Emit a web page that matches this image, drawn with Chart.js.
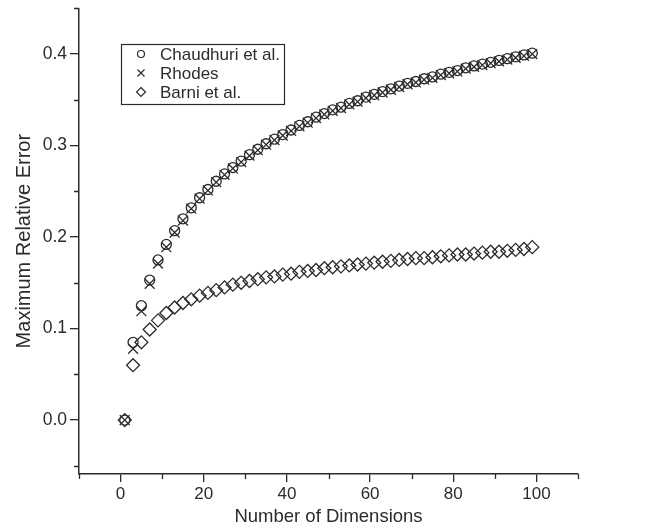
<!DOCTYPE html>
<html>
<head>
<meta charset="utf-8">
<script src="https://cdn.jsdelivr.net/npm/chart.js@4/dist/chart.umd.min.js"></script>
<style>
  html, body { margin: 0; padding: 0; background: #fff; }
  #wrap { width: 649px; height: 528px; }
</style>
</head>
<body>
<div id="wrap"><canvas id="chart"></canvas></div>
<script>
// number of dimensions (odd values 1..99)
const dims = [1, 3, 5, 7, 9, 11, 13, 15, 17, 19, 21, 23, 25, 27, 29, 31, 33, 35, 37, 39,
  41, 43, 45, 47, 49, 51, 53, 55, 57, 59, 61, 63, 65, 67, 69, 71, 73, 75, 77, 79,
  81, 83, 85, 87, 89, 91, 93, 95, 97, 99];

const chaudhuri = [0.000, 0.085, 0.125, 0.153, 0.175, 0.192, 0.207, 0.220, 0.232, 0.243,
  0.252, 0.261, 0.269, 0.276, 0.283, 0.290, 0.296, 0.302, 0.307, 0.312,
  0.317, 0.322, 0.326, 0.331, 0.335, 0.339, 0.342, 0.346, 0.349, 0.353,
  0.356, 0.359, 0.362, 0.365, 0.368, 0.370, 0.373, 0.375, 0.378, 0.380,
  0.382, 0.385, 0.387, 0.389, 0.391, 0.393, 0.395, 0.397, 0.399, 0.401];

const rhodes = [0.000, 0.078, 0.119, 0.149, 0.171, 0.189, 0.205, 0.218, 0.231, 0.242,
  0.251, 0.260, 0.268, 0.275, 0.282, 0.289, 0.295, 0.301, 0.306, 0.311,
  0.316, 0.321, 0.325, 0.330, 0.334, 0.338, 0.341, 0.345, 0.348, 0.352,
  0.355, 0.358, 0.361, 0.364, 0.367, 0.369, 0.372, 0.374, 0.377, 0.379,
  0.381, 0.384, 0.386, 0.388, 0.390, 0.392, 0.394, 0.396, 0.398, 0.400];

const barni = [0.000, 0.060, 0.085, 0.099, 0.109, 0.117, 0.123, 0.128, 0.132, 0.136,
  0.139, 0.142, 0.145, 0.148, 0.150, 0.152, 0.154, 0.156, 0.157, 0.159,
  0.160, 0.162, 0.163, 0.164, 0.166, 0.167, 0.168, 0.169, 0.170, 0.171,
  0.172, 0.173, 0.174, 0.175, 0.176, 0.177, 0.177, 0.178, 0.179, 0.180,
  0.181, 0.181, 0.182, 0.183, 0.184, 0.184, 0.185, 0.186, 0.187, 0.189];

const seriesNames = ['Chaudhuri et al.', 'Rhodes', 'Barni et al.'];

const xTicks = [0, 20, 40, 60, 80, 100];
const xMinorTicks = [-10, 10, 30, 50, 70, 90, 110];
const yTicks = [0.0, 0.1, 0.2, 0.3, 0.4];
const yMinorTicks = [-0.05, 0.05, 0.15, 0.25, 0.35, 0.45];

const ink = '#2b2b2b';
const font = "'Liberation Sans', Arial, sans-serif";

function toPoints(ys) {
  return dims.map((d, i) => ({ x: d, y: ys[i] }));
}

// short outward ticks at the minor positions
const minorTicks = {
  id: 'minorTicks',
  afterDraw(chart) {
    const ctx = chart.ctx;
    const xs = chart.scales.x, ys = chart.scales.y;
    ctx.save();
    ctx.strokeStyle = ink;
    ctx.lineWidth = 1.3;
    ctx.beginPath();
    xMinorTicks.forEach(v => {
      const px = Math.round(xs.getPixelForValue(v)) + 0.5;
      ctx.moveTo(px, xs.top);
      ctx.lineTo(px, xs.top + 5);
    });
    yMinorTicks.forEach(v => {
      const py = Math.round(ys.getPixelForValue(v)) + 0.5;
      ctx.moveTo(ys.right, py);
      ctx.lineTo(ys.right - 5, py);
    });
    ctx.stroke();
    ctx.restore();
  }
};

// boxed legend in the upper left
const boxLegend = {
  id: 'boxLegend',
  afterDraw(chart, args, opts) {
    const ctx = chart.ctx;
    ctx.save();
    ctx.strokeStyle = ink;
    ctx.lineWidth = 1.2;
    ctx.strokeRect(opts.left + 0.5, opts.top + 0.5, opts.width, opts.height);
    ctx.font = opts.fontSize + 'px ' + font;
    ctx.fillStyle = ink;
    ctx.textBaseline = 'middle';
    chart.data.datasets.forEach((ds, i) => {
      const y = opts.top + opts.rowStart + i * opts.rowGap;
      const sx = opts.left + opts.symbolX;
      ctx.beginPath();
      ctx.lineWidth = 1.2;
      if (ds.pointStyle === 'circle') {
        ctx.arc(sx, y, 3.5, 0, Math.PI * 2);
      } else if (ds.pointStyle === 'crossRot') {
        ctx.moveTo(sx - 3.5, y - 3.5); ctx.lineTo(sx + 3.5, y + 3.5);
        ctx.moveTo(sx + 3.5, y - 3.5); ctx.lineTo(sx - 3.5, y + 3.5);
      } else {
        ctx.moveTo(sx, y - 4.5); ctx.lineTo(sx + 4.5, y);
        ctx.lineTo(sx, y + 4.5); ctx.lineTo(sx - 4.5, y);
        ctx.closePath();
      }
      ctx.stroke();
      ctx.fillText(ds.label, opts.left + opts.textX, y + 1);
    });
    ctx.restore();
  }
};

const markerBase = {
  showLine: false,
  borderColor: ink,
  backgroundColor: 'rgba(0,0,0,0)',
  pointBorderWidth: 1.3,
  pointHoverRadius: 5,
  clip: false
};

new Chart(document.getElementById('chart'), {
  type: 'scatter',
  data: {
    datasets: [
      Object.assign({}, markerBase, { label: seriesNames[0], data: toPoints(chaudhuri), pointStyle: 'circle', pointRadius: 5 }),
      Object.assign({}, markerBase, { label: seriesNames[1], data: toPoints(rhodes), pointStyle: 'crossRot', pointRadius: 7 }),
      Object.assign({}, markerBase, { label: seriesNames[2], data: toPoints(barni), pointStyle: 'rectRot', pointRadius: 6.5 })
    ]
  },
  options: {
    responsive: true,
    maintainAspectRatio: false,
    animation: false,
    layout: { padding: { left: 0, top: 7, right: 71, bottom: 0 } },
    plugins: {
      legend: { display: false },
      tooltip: { enabled: false },
      boxLegend: {
        left: 121, top: 44, width: 163, height: 60,
        rowStart: 10, rowGap: 19, symbolX: 20, textX: 39, fontSize: 17
      }
    },
    scales: {
      x: {
        type: 'linear',
        min: -10,
        max: 110,
        afterBuildTicks: s => { s.ticks = xTicks.map(v => ({ value: v })); },
        afterFit: s => { s.height = 54; s.paddingLeft = 0; s.paddingRight = 0; },
        grid: { drawOnChartArea: false, drawTicks: true, tickLength: 8, color: ink, lineWidth: 1.3 },
        border: { display: true, color: ink, width: 1.5 },
        ticks: { color: ink, font: { family: font, size: 17 }, padding: 2, maxRotation: 0 },
        title: { display: true, text: 'Number of Dimensions', color: ink, font: { family: font, size: 18.5 }, padding: { top: 0, bottom: 0 } }
      },
      y: {
        type: 'linear',
        min: -0.0589,
        max: 0.45,
        afterBuildTicks: s => { s.ticks = yTicks.map(v => ({ value: v })); },
        afterFit: s => { s.width = 79; s.paddingTop = 0; s.paddingBottom = 0; },
        grid: { drawOnChartArea: false, drawTicks: true, tickLength: 9, color: ink, lineWidth: 1.3 },
        border: { display: true, color: ink, width: 1.5 },
        ticks: { color: ink, font: { family: font, size: 17.5 }, padding: 3, callback: v => v.toFixed(1) },
        title: { display: true, text: 'Maximum Relative Error', color: ink, font: { family: font, size: 20 }, padding: { top: 12, bottom: 0 } }
      }
    }
  },
  plugins: [minorTicks, boxLegend]
});
</script>
</body>
</html>
